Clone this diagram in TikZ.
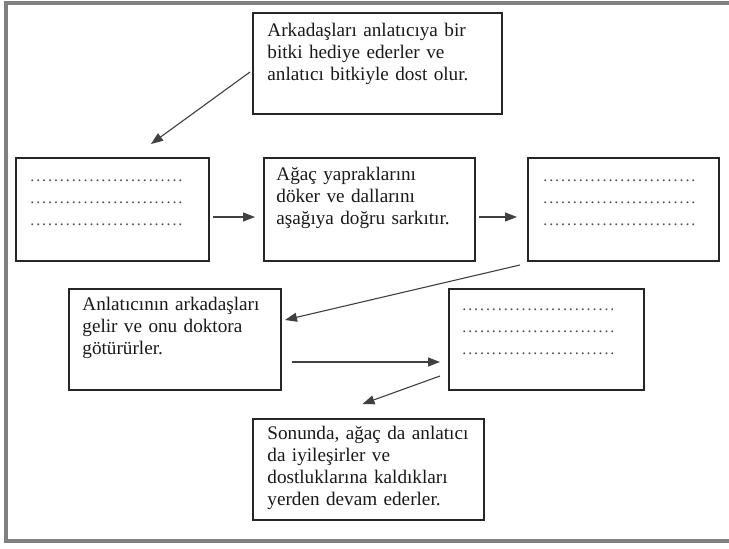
\documentclass[tikz,border=0pt]{standalone}
\usepackage{fontspec}
\setmainfont{Liberation Serif}
\usetikzlibrary{positioning,arrows.meta,calc}

% a row of fill-in dots
\newcommand{\dotrow}{\leavevmode\hbox to 77pt{\xleaders\hbox to 2.96pt{\hss.\hss}\hfill}}

\begin{document}
\begin{tikzpicture}[
    x=0.5pt, y=-0.5pt,
    font=\fontsize{9.6}{11}\selectfont,
    story/.style={draw=black!85, line width=1pt, inner sep=0pt},
    words/.style={anchor=base west, align=left, text width=125pt,
                  inner sep=0pt, text=black!90},
    blanks/.style={words, font=\fontsize{8}{11}\selectfont, text=black!70},
    link/.style={-{Triangle[length=6pt,width=4.5pt]}, line width=0.55pt, draw=black!75},
]

% ---- page frame ----
\useasboundingbox (0,0) rectangle (729,549);
\draw[line width=1.8pt, draw=black!50] (6,3) rectangle (760,541);

% ---- story boxes ----
\node[story, minimum width=124.5pt, minimum height=50.5pt] (gift)   at (377.5,63.5) {};
\node[story, minimum width=96.5pt,  minimum height=51.5pt] (blankA) at (112.5,209.5) {};
\node[story, minimum width=105.5pt, minimum height=51.5pt] (shed)   at (369.5,209.5) {};
\node[story, minimum width=95.5pt,  minimum height=51.5pt] (blankB) at (623.5,209.5) {};
\node[story, minimum width=106pt,   minimum height=50.5pt] (doctor) at (175,339.5) {};
\node[story, minimum width=97.5pt,  minimum height=50.5pt] (blankC) at (546.5,339.5) {};
\node[story, minimum width=115.5pt, minimum height=50.5pt] (heal)   at (368.5,469.5) {};

% ---- texts ----
\node[words] (giftText) at ([shift={(15,25)}]gift.north west)
    {Arkadaşları anlatıcıya bir\\ bitki hediye ederler ve\\ anlatıcı bitkiyle dost olur.};
\node[words] (shedText) at ([shift={(13,24)}]shed.north west)
    {Ağaç yapraklarını\\ döker ve dallarını\\ aşağıya doğru sarkıtır.};
\node[words] (doctorText) at ([shift={(14,23)}]doctor.north west)
    {Anlatıcının arkadaşları\\ gelir ve onu doktora\\ götürürler.};
\node[words] (healText) at ([shift={(15,22)}]heal.north west)
    {Sonunda, ağaç da anlatıcı\\ da iyileşirler ve\\ dostluklarına kaldıkları\\ yerden devam ederler.};
\node[blanks] (blankAText) at ([shift={(14,25)}]blankA.north west) {\dotrow\\ \dotrow\\ \dotrow};
\node[blanks] (blankBText) at ([shift={(15,25)}]blankB.north west) {\dotrow\\ \dotrow\\ \dotrow};
\node[blanks] (blankCText) at ([shift={(13,23)}]blankC.north west) {\dotrow\\ \dotrow\\ \dotrow};

% ---- links ----
\draw[link] ([shift={(-1pt,-4.25pt)}]gift.west) -- ([shift={(19.25pt,6.5pt)}]blankA.north);
\draw[link, shorten <=1.5pt, shorten >=4pt] ([yshift=-3.75pt]blankA.east) -- ([yshift=-3.75pt]shed.west);
\draw[link, shorten <=1.5pt, shorten >=5pt] ([yshift=-3.75pt]shed.east) -- ([yshift=-3.75pt]blankB.west);
\draw[link] ([shift={(-3.5pt,-1.5pt)}]blankB.south west) -- ([shift={(1.5pt,9.75pt)}]doctor.east);
\draw[link, shorten <=5pt, shorten >=4pt] ([yshift=-11.25pt]doctor.east) -- ([yshift=-11.25pt]blankC.west);
\draw[link] ([shift={(-4pt,-18.25pt)}]blankC.west) -- ([shift={(-3pt,7pt)}]heal.north);

\end{tikzpicture}
\end{document}
